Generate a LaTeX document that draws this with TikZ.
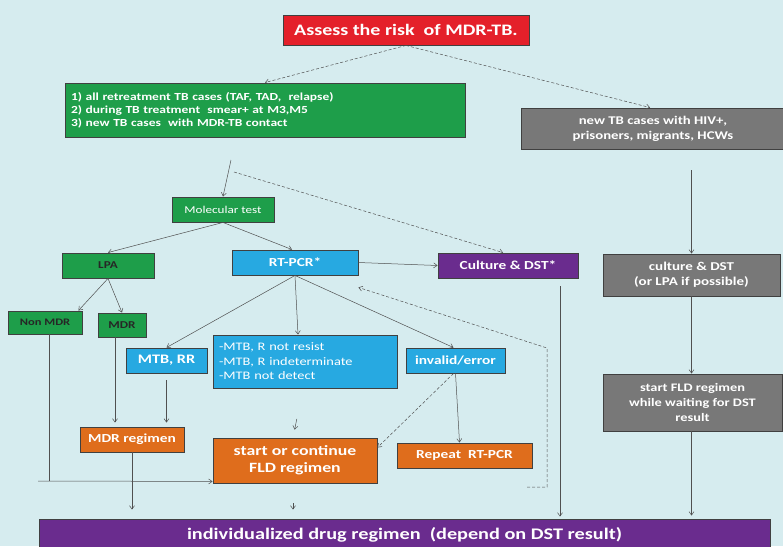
\documentclass[tikz,border=0pt]{standalone}
\usepackage{fontspec}
\setmainfont{Carlito}[FakeStretch=1.25]
\usetikzlibrary{arrows.meta}
\definecolor{bgcyan}{HTML}{D6ECEF}
\definecolor{boxred}{HTML}{E4202A}
\definecolor{boxgreen}{HTML}{1E9E4A}
\definecolor{boxgray}{HTML}{787878}
\definecolor{boxblue}{HTML}{27A9E1}
\definecolor{boxpurple}{HTML}{6A2C8E}
\definecolor{boxorange}{HTML}{DF6D1C}
\definecolor{lineclr}{HTML}{505050}
\tikzset{%
  box/.style={%
    draw=black!75,%
    line width=0.9pt,%
    text=white,%
    align=center,%
    inner sep=1pt,%
    font=\bfseries\fontsize{12.3}{13}\selectfont},
  redbox/.style={box,fill=boxred},
  greenbox/.style={box,fill=boxgreen},
  graybox/.style={box,fill=boxgray},
  bluebox/.style={box,fill=boxblue},
  purplebox/.style={box,fill=boxpurple},
  orangebox/.style={box,fill=boxorange},
  arr/.style={draw=lineclr,line width=0.5pt,-{Straight Barb[length=3.5pt,width=5pt]}},
  dasharr/.style={arr,dash pattern=on 3pt off 2pt},
  plainline/.style={draw=lineclr,line width=0.5pt}
}

\begin{document}
\begin{tikzpicture}[x=1pt,y=-1pt]
  \fill[bgcyan] (0,0) rectangle (783,546);
  \useasboundingbox (0,0) rectangle (783,546);

  \node[redbox,minimum width=246pt,minimum height=30pt,
    font=\bfseries\fontsize{16}{18}\selectfont] (risk) at (406,30)
    {Assess the risk\ \ of MDR-TB.};
  \node[greenbox,minimum width=400pt,minimum height=54pt,text width=388pt,
    align=left,font=\bfseries\fontsize{10.8}{13}\selectfont] (groupa) at (265,110)
    {1) all retreatment TB cases (TAF, TAD,\ \ relapse)\\
     2) during TB treatment\ \ smear+ at M3,M5\\
     3) new TB cases\ \ with MDR-TB contact};
  \node[graybox,minimum width=263pt,minimum height=41pt,
    font=\bfseries\fontsize{11.8}{15}\selectfont] (groupb) at (653,128.5)
    {new TB cases with HIV+,\\ prisoners, migrants, HCWs};

  \coordinate (split) at (231,160);
  \coordinate (dashstart) at (234,172);

  \node[greenbox,minimum width=102pt,minimum height=25pt,
    font=\fontsize{10.5}{13}\selectfont] (moltest) at (223,209.5) {Molecular test};
  \node[greenbox,minimum width=92pt,minimum height=25pt,text=black!85,
    font=\bfseries\fontsize{10.5}{13}\selectfont] (lpa) at (108,265.5) {LPA};
  \node[bluebox,minimum width=126pt,minimum height=25pt] (rtpcr) at (295,262.5) {RT-PCR*};
  \node[purplebox,minimum width=140pt,minimum height=25pt] (culture) at (508,265.5) {Culture \& DST*};
  \node[graybox,minimum width=177pt,minimum height=42pt,
    font=\bfseries\fontsize{12}{15}\selectfont] (cultgray) at (691.5,275)
    {culture \& DST\\ (or LPA if possible)};

  \node[greenbox,minimum width=74pt,minimum height=23pt,text=black!85,
    font=\bfseries\fontsize{10}{12}\selectfont] (nonmdr) at (45,322.5) {Non MDR};
  \node[greenbox,minimum width=48pt,minimum height=24pt,text=black!85,
    font=\bfseries\fontsize{10.5}{12}\selectfont] (mdr) at (122,325) {MDR};
  \node[bluebox,minimum width=81pt,minimum height=25pt,
    font=\bfseries\fontsize{13}{14}\selectfont] (mtbrr) at (166.5,360.5) {MTB, RR};
  \node[bluebox,minimum width=184pt,minimum height=53pt,text width=172pt,
    align=left,font=\fontsize{11.5}{14.5}\selectfont] (notres) at (305,361.5)
    {-MTB, R not resist\\ -MTB, R indeterminate\\ -MTB not detect};
  \node[bluebox,minimum width=99pt,minimum height=25pt] (invalid) at (455.5,360.5) {invalid/error};
  \node[graybox,minimum width=179pt,minimum height=57pt,
    font=\bfseries\fontsize{11.5}{15}\selectfont] (startfld) at (692.5,402.5)
    {start FLD regimen\\ while waiting for DST\\ result};

  \node[orangebox,minimum width=104pt,minimum height=25pt] (mdrreg) at (132,439.5) {MDR regimen};
  \node[orangebox,minimum width=164pt,minimum height=45pt,
    font=\bfseries\fontsize{14.2}{17}\selectfont] (contfld) at (295,460.5)
    {start or continue\\ FLD regimen};
  \node[orangebox,minimum width=135pt,minimum height=25pt] (repeat) at (464.5,455.5) {Repeat\ \ RT-PCR};
  \node[purplebox,minimum width=731pt,minimum height=32pt,
    font=\bfseries\fontsize{16.2}{20}\selectfont] (indiv) at (404.5,535)
    {individualized drug regimen\ \ (depend on DST result)};

  \coordinate (bend) at (38,481);
  \coordinate (loopend) at (527,487);
  \coordinate (loopcorner) at (547,487);
  \coordinate (looptop) at (547,348);

  \draw[dasharr] (risk.south) -- (groupa.north);
  \draw[dasharr] (risk.south) -- ([xshift=-3pt]groupb.north);
  \draw[arr] (split) -- (moltest.north);
  \draw[dasharr] (dashstart) -- ([xshift=-5pt]culture.north);

  \draw[arr] (moltest.south) -- (lpa.north);
  \draw[arr] (moltest.south) -- ([xshift=-3pt]rtpcr.north);
  \draw[arr] (rtpcr.east) -- (culture.west);
  \draw[arr] (lpa.south) -- ([xshift=-4pt]nonmdr.north east);
  \draw[arr] (lpa.south) -- (mdr.north);
  \draw[arr] (rtpcr.south) -- (mtbrr.north);
  \draw[arr] (rtpcr.south) -- ([xshift=-7pt]notres.north);
  \draw[arr] (rtpcr.south) -- ([xshift=-2pt]invalid.north);
  \draw[arr] (invalid.south) -- ([xshift=-5pt]repeat.north);
  \draw[dasharr] ([xshift=-2pt]invalid.south) -- ([yshift=13pt]contfld.east);
  \draw[dasharr] (loopend) -- (loopcorner) -- (looptop) -- ([yshift=-12pt]rtpcr.south east);

  \draw[arr,shorten <=21pt] (groupb.south -| cultgray.north) -- (cultgray.north);
  \draw[arr] (cultgray.south) -- (startfld.north -| cultgray.south);
  \draw[arr,shorten >=3pt] (startfld.south -| cultgray.south) -- (cultgray.south |- indiv.north);
  \draw[arr,shorten <=8pt,shorten >=2pt] ([xshift=52pt]culture.south) -- ([xshift=52pt]culture.south |- indiv.north);

  \draw[arr,shorten >=4pt] ([xshift=-7pt]mdr.south) -- ([xshift=-7pt]mdr.south |- mdrreg.north);
  \draw[arr,shorten <=7pt,shorten >=4pt] (mtbrr.south) -- (mtbrr.south |- mdrreg.north);
  \draw[arr,shorten <=31pt,shorten >=8pt] ([xshift=-2pt]notres.south) -- ([xshift=-2pt]contfld.north);
  \draw[arr,shorten <=20pt,shorten >=9pt] ([xshift=-2pt]contfld.south) -- ([xshift=-2pt]contfld.south |- indiv.north);
  \draw[arr,shorten >=9pt] (mdrreg.south) -- (mdrreg.south |- indiv.north);
  \draw[plainline] ([xshift=4pt]nonmdr.south) -- ([xshift=4pt]nonmdr.south |- bend);
  \draw[arr] (bend) -- ([yshift=2pt]contfld.south west);
\end{tikzpicture}
\end{document}
